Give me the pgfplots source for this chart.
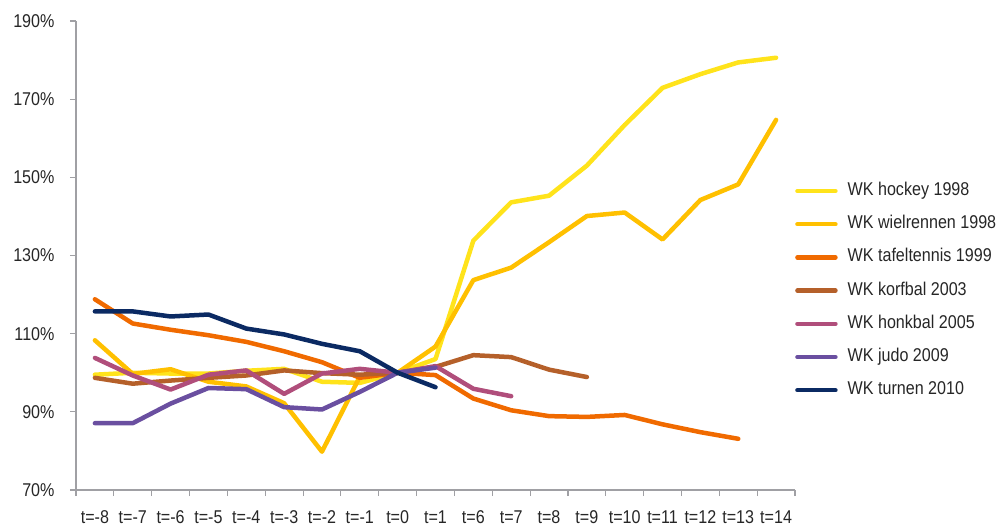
\documentclass[border=0pt]{standalone}
\usepackage{fontspec}
\setmainfont{Liberation Sans}[FakeStretch=0.87]
\usepackage{pgfplots}
\pgfplotsset{compat=1.18}
\definecolor{chockey}{HTML}{FFE31B}
\definecolor{cwiel}{HTML}{FFC000}
\definecolor{ctafel}{HTML}{F06A00}
\definecolor{ckorf}{HTML}{B5602A}
\definecolor{chonk}{HTML}{B04E7B}
\definecolor{cjudo}{HTML}{6A4FA0}
\definecolor{cturn}{HTML}{0B2A63}
\definecolor{caxis}{HTML}{A0A0A4}
\definecolor{ctext}{HTML}{262626}
\begin{document}
\begin{tikzpicture}
\path[use as bounding box] (-76pt,-38pt) rectangle (922pt,490pt);
\begin{axis}[
  at={(0pt,0pt)}, anchor=south west,
  scale only axis, width=719pt, height=469pt,
  xmin=-0.5, xmax=18.5, ymin=70, ymax=190,
  axis x line*=bottom, axis y line*=left,
  axis line style={draw=caxis, line width=1.3pt, -},
  every tick/.style={draw=caxis, line width=1.1pt},
  tick align=outside,
  xtick={0,...,18}, major x tick style={draw=none},
  xticklabels={t=-8,t=-7,t=-6,t=-5,t=-4,t=-3,t=-2,t=-1,t=0,t=1,t=6,t=7,t=8,t=9,t=10,t=11,t=12,t=13,t=14},
  minor xtick={-0.5,0.5,...,18.5},
  minor tick length=6pt,
  ytick={70,90,...,190},
  yticklabels={70\%,90\%,110\%,130\%,150\%,170\%,190\%},
  major tick length=6pt,
  tick label style={font=\fontsize{18.5}{20}\selectfont, text=ctext},
  xticklabel style={yshift=-11.5pt},
  yticklabel style={xshift=-12pt},
  legend style={at={(1,0.656)}, anchor=north west, draw=none, fill=none,
    inner sep=0pt, row sep=16.2pt,
    nodes={inner sep=0pt, text height=13pt, text depth=4pt, text=ctext,
      font=\fontsize{18.5}{20}\selectfont}},
  legend cell align=left,
  legend image code/.code={\draw[#1, line width=4.5pt, line cap=round] (2.5pt,0pt) -- (40.5pt,0pt);},
  every axis plot/.append style={line width=4.5pt, line cap=round, line join=round},
]
\addplot[chockey] coordinates {(0,99.5)(1,100)(2,99.8)(3,99.8)(4,100.5)(5,101.0)(6,97.7)(7,97.4)(8,100)(9,103.5)(10,133.8)(11,143.6)(12,145.3)(13,153.0)(14,163.4)(15,172.9)(16,176.4)(17,179.4)(18,180.6)};
\addlegendentry{\hspace{10pt}WK hockey 1998}
\addplot[cwiel] coordinates {(0,108.3)(1,99.7)(2,100.9)(3,97.7)(4,96.5)(5,92.2)(6,79.8)(7,99.0)(8,100)(9,106.7)(10,123.7)(11,126.9)(12,133.4)(13,140.1)(14,141.0)(15,134.1)(16,144.2)(17,148.2)(18,164.7)};
\addlegendentry{\hspace{10pt}WK wielrennen 1998}
\addplot[ctafel] coordinates {(0,118.8)(1,112.6)(2,111.0)(3,109.6)(4,107.9)(5,105.5)(6,102.7)(7,98.7)(8,100)(9,99.4)(10,93.4)(11,90.4)(12,88.9)(13,88.7)(14,89.2)(15,86.8)(16,84.8)(17,83.1)};
\addlegendentry{\hspace{10pt}WK tafeltennis 1999}
\addplot[ckorf] coordinates {(0,98.7)(1,97.2)(2,98.0)(3,98.7)(4,99.3)(5,100.6)(6,99.9)(7,99.5)(8,100)(9,101.5)(10,104.5)(11,104.0)(12,100.8)(13,98.9)};
\addlegendentry{\hspace{10pt}WK korfbal 2003}
\addplot[chonk] coordinates {(0,103.8)(1,99.3)(2,95.7)(3,99.5)(4,100.6)(5,94.6)(6,99.8)(7,101.0)(8,100)(9,101.7)(10,95.9)(11,94.0)};
\addlegendentry{\hspace{10pt}WK honkbal 2005}
\addplot[cjudo] coordinates {(0,87.1)(1,87.1)(2,92.1)(3,96.1)(4,95.8)(5,91.2)(6,90.6)(7,95.1)(8,100)(9,101.3)};
\addlegendentry{\hspace{10pt}WK judo 2009}
\addplot[cturn] coordinates {(0,115.7)(1,115.7)(2,114.4)(3,114.9)(4,111.3)(5,109.8)(6,107.4)(7,105.5)(8,100)(9,96.3)};
\addlegendentry{\hspace{10pt}WK turnen 2010}
\end{axis}
\end{tikzpicture}
\end{document}
